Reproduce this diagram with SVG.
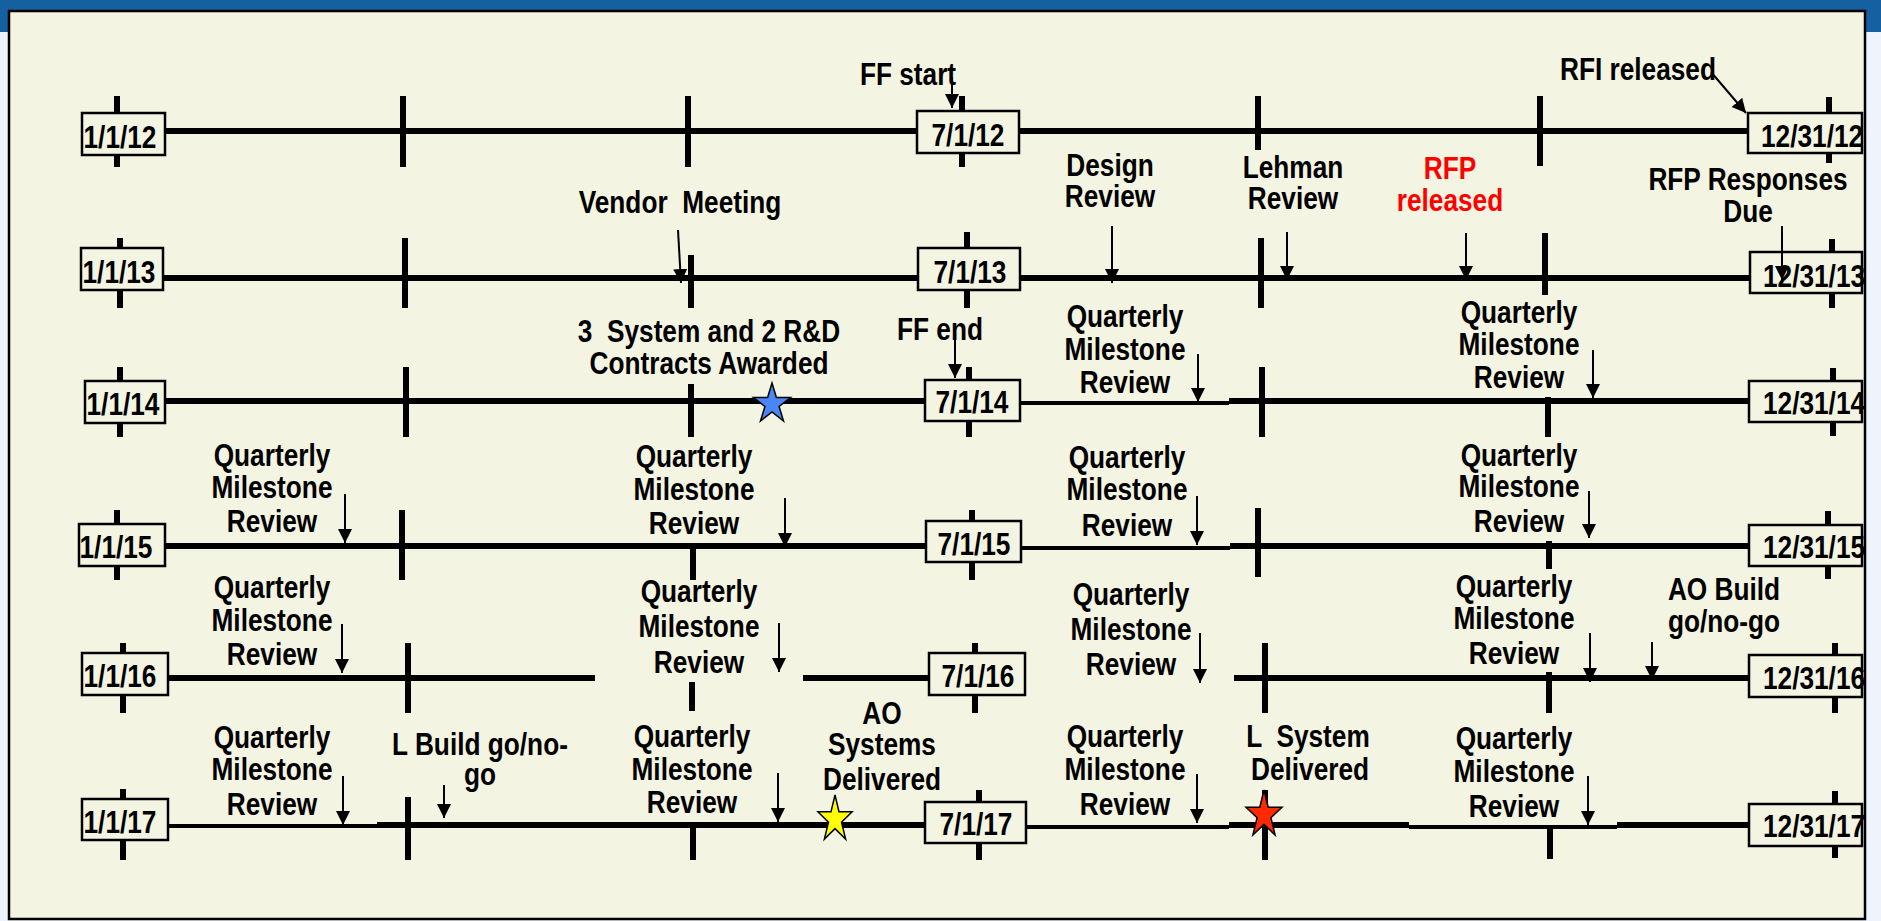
<svg xmlns="http://www.w3.org/2000/svg" width="1881" height="921" viewBox="0 0 1881 921">
<defs>
<style>
text{font-family:"Liberation Sans",Arial,sans-serif;font-weight:bold;font-size:32px;fill:#000;text-anchor:middle}
.e{text-anchor:start}
.red{fill:#FF0000}
.ln{stroke:#000;stroke-width:6;fill:none}
.thin{stroke:#000;stroke-width:4;fill:none}
.tk{stroke:#000;stroke-width:6;fill:none}
.box{fill:#F3F4E2;stroke:#000;stroke-width:2.5}
.ar{stroke:#000;stroke-width:2;fill:none;marker-end:url(#ah)}
.star{stroke:#000;stroke-width:1.5}
</style>
<marker id="ah" markerUnits="userSpaceOnUse" markerWidth="16" markerHeight="16" refX="14" refY="7" orient="auto"><path d="M0,0 L14,7 L0,14 z" fill="#000"/></marker>
</defs>
<rect x="0" y="0" width="1881" height="921" fill="#EFF3FB"/>
<rect x="0" y="0" width="1881" height="32" fill="#1560A0"/>
<rect x="9" y="11" width="1856" height="908" fill="#F3F4E2" stroke="#000" stroke-width="2.5"/>

<g id="row2012">
<path class="ln" d="M165,131 H1748"/>
<path class="tk" d="M117,96 V167 M403,96 V167 M688,96 V167 M962,96 V167 M1258,96 V150 M1540,96 V166 M1829,97 V163"/>
<rect class="box" x="82" y="113" width="83" height="42"/>
<rect class="box" x="917" y="111" width="102" height="42"/>
<rect class="box" x="1748" y="113" width="114" height="40"/>
<g transform="scale(0.82,1)"><text x="146.34" y="148">1/1/12</text><text x="1180.49" y="146">7/1/12</text><text class="e" x="2147.56" y="147">12/31/12</text></g>
</g>
<g id="row2013">
<path class="ln" d="M163,278 H1750"/>
<path class="tk" d="M120,238 V308 M405,238 V308 M691,255 V308 M967,232 V308 M1261,238 V308 M1545,233 V295 M1832,239 V308"/>
<rect class="box" x="81" y="248" width="82" height="42"/>
<rect class="box" x="918" y="248" width="102" height="42"/>
<rect class="box" x="1750" y="252" width="112" height="41"/>
<g transform="scale(0.82,1)"><text x="145.12" y="283">1/1/13</text><text x="1182.93" y="283">7/1/13</text><text class="e" x="2150" y="287">12/31/13</text></g>
</g>
<g id="row2014">
<path class="ln" d="M165,401 H925 M1229,401 H1749"/>
<path class="thin" d="M1020,403 H1229"/>
<path class="tk" d="M120,367 V437 M406,367 V437 M691,384 V437 M969,367 V437 M1262,367 V437 M1548,397 V437 M1833,368 V436"/>
<rect class="box" x="85" y="381" width="80" height="42"/>
<rect class="box" x="925" y="380" width="95" height="41"/>
<rect class="box" x="1749" y="381" width="113" height="41"/>
<g transform="scale(0.82,1)"><text x="150" y="415">1/1/14</text><text x="1185.37" y="413">7/1/14</text><text class="e" x="2150" y="414">12/31/14</text></g>
</g>
<g id="row2015">
<path class="ln" d="M165,546 H926 M1230,546 H1749"/>
<path class="thin" d="M1021,548 H1230"/>
<path class="tk" d="M117,510 V580 M402,510 V580 M693,543 V580 M972,510 V580 M1258,508 V577 M1549,541 V569 M1828,511 V579"/>
<rect class="box" x="79" y="524" width="86" height="42"/>
<rect class="box" x="926" y="521" width="95" height="41"/>
<rect class="box" x="1749" y="525" width="113" height="41"/>
<g transform="scale(0.82,1)"><text x="141.46" y="558">1/1/15</text><text x="1187.8" y="555">7/1/15</text><text class="e" x="2150" y="558">12/31/15</text></g>
</g>
<g id="row2016">
<path class="ln" d="M168,678 H595 M803,678 H929 M1234,678 H1749"/>
<path class="tk" d="M123,643 V713 M408,643 V713 M692,682 V711 M975,643 V713 M1265,643 V713 M1549,672 V713 M1835,643 V713"/>
<rect class="box" x="82" y="653" width="86" height="42"/>
<rect class="box" x="929" y="653" width="96" height="42"/>
<rect class="box" x="1749" y="655" width="113" height="42"/>
<g transform="scale(0.82,1)"><text x="146.34" y="687">1/1/16</text><text x="1192.68" y="687">7/1/16</text><text class="e" x="2150" y="689">12/31/16</text></g>
</g>
<g id="row2017">
<path class="thin" d="M168,826 H377 M1026,827 H1229 M1409,827 H1617"/>
<path class="ln" d="M377,825 H925 M1229,825 H1409 M1617,825 H1749"/>
<path class="tk" d="M123,789 V860 M408,797 V860 M693,827 V860 M979,790 V860 M1265,790 V860 M1550,827 V859 M1835,791 V858"/>
<rect class="box" x="82" y="799" width="86" height="41"/>
<rect class="box" x="925" y="802" width="101" height="41"/>
<rect class="box" x="1749" y="804" width="113" height="42"/>
<g transform="scale(0.82,1)"><text x="146.34" y="833">1/1/17</text><text x="1190.24" y="835">7/1/17</text><text class="e" x="2150" y="837">12/31/17</text></g>
</g>

<g id="ev-ffstart" transform="scale(0.82,1)"><text x="1107.32" y="85">FF start</text></g>
<g id="ev-rfi" transform="scale(0.82,1)"><text x="1997.56" y="80">RFI released</text></g>
<g id="ev-vendor" transform="scale(0.82,1)"><text x="829.27" y="213" xml:space="preserve">Vendor  Meeting</text></g>
<g id="ev-design" transform="scale(0.82,1)"><text x="1353.66" y="176">Design</text><text x="1353.66" y="207">Review</text></g>
<g id="ev-lehman" transform="scale(0.82,1)"><text x="1576.83" y="178">Lehman</text><text x="1576.83" y="209">Review</text></g>
<g id="ev-rfp" transform="scale(0.82,1)"><text class="red" x="1768.29" y="179">RFP</text><text class="red" x="1768.29" y="211">released</text></g>
<g id="ev-rfpdue" transform="scale(0.82,1)"><text x="2131.71" y="190">RFP Responses</text><text x="2131.71" y="222">Due</text></g>
<g id="ev-contracts">
<g transform="scale(0.82,1)"><text x="864.63" y="342" xml:space="preserve">3  System and 2 R&amp;D</text><text x="864.63" y="374">Contracts Awarded</text></g>
<polygon class="star" fill="#4A86F7" points="772,383 776.4,397.5 790.5,397.5 779.1,406.5 783.5,421 772,412 760.5,421 764.9,406.5 753.5,397.5 767.6,397.5"/></g>
<g id="ev-ffend" transform="scale(0.82,1)"><text x="1146.34" y="340">FF end</text></g>
<g id="qmr-14a" transform="scale(0.82,1)"><text x="1371.95" y="327">Quarterly</text><text x="1371.95" y="360">Milestone</text><text x="1371.95" y="393">Review</text></g>
<g id="qmr-14b" transform="scale(0.82,1)"><text x="1852.44" y="323">Quarterly</text><text x="1852.44" y="355">Milestone</text><text x="1852.44" y="388">Review</text></g>
<g id="qmr-15a" transform="scale(0.82,1)"><text x="331.71" y="466">Quarterly</text><text x="331.71" y="498">Milestone</text><text x="331.71" y="532">Review</text></g>
<g id="qmr-15b" transform="scale(0.82,1)"><text x="846.34" y="467">Quarterly</text><text x="846.34" y="500">Milestone</text><text x="846.34" y="534">Review</text></g>
<g id="qmr-15c" transform="scale(0.82,1)"><text x="1374.39" y="468">Quarterly</text><text x="1374.39" y="500">Milestone</text><text x="1374.39" y="536">Review</text></g>
<g id="qmr-15d" transform="scale(0.82,1)"><text x="1852.44" y="466">Quarterly</text><text x="1852.44" y="497">Milestone</text><text x="1852.44" y="532">Review</text></g>
<g id="qmr-16a" transform="scale(0.82,1)"><text x="331.71" y="598">Quarterly</text><text x="331.71" y="631">Milestone</text><text x="331.71" y="665">Review</text></g>
<g id="qmr-16b" transform="scale(0.82,1)"><text x="852.44" y="602">Quarterly</text><text x="852.44" y="637">Milestone</text><text x="852.44" y="673">Review</text></g>
<g id="qmr-16c" transform="scale(0.82,1)"><text x="1379.27" y="605">Quarterly</text><text x="1379.27" y="640">Milestone</text><text x="1379.27" y="675">Review</text></g>
<g id="qmr-16d" transform="scale(0.82,1)"><text x="1846.34" y="597">Quarterly</text><text x="1846.34" y="629">Milestone</text><text x="1846.34" y="664">Review</text></g>
<g id="ev-aobuild" transform="scale(0.82,1)"><text x="2102.44" y="600">AO Build</text><text x="2102.44" y="632">go/no-go</text></g>
<g id="qmr-17a" transform="scale(0.82,1)"><text x="331.71" y="748">Quarterly</text><text x="331.71" y="780">Milestone</text><text x="331.71" y="815">Review</text></g>
<g id="ev-lbuild" transform="scale(0.82,1)"><text x="585.37" y="755">L Build go/no-</text><text x="585.37" y="785">go</text></g>
<g id="qmr-17b" transform="scale(0.82,1)"><text x="843.9" y="747">Quarterly</text><text x="843.9" y="780">Milestone</text><text x="843.9" y="813">Review</text></g>
<g id="ev-aosys">
<g transform="scale(0.82,1)"><text x="1075.61" y="724">AO</text><text x="1075.61" y="755">Systems</text><text x="1075.61" y="790">Delivered</text></g>
<polygon class="star" fill="#FFFF00" points="835,795 839,811.8 852.1,811.8 841.5,822.2 845.6,839 835,828.6 824.4,839 828.5,822.2 817.9,811.8 831,811.8"/></g>
<g id="qmr-17c" transform="scale(0.82,1)"><text x="1371.95" y="747">Quarterly</text><text x="1371.95" y="780">Milestone</text><text x="1371.95" y="815">Review</text></g>
<g id="ev-lsys">
<g transform="scale(0.82,1)"><text x="1595.12" y="747" xml:space="preserve">L  System</text><text x="1597.56" y="780">Delivered</text></g>
<polygon class="star" fill="#FF2A00" points="1264,790 1268.2,807.2 1282,807.2 1270.9,817.8 1275.1,835 1264,824.4 1252.9,835 1257.1,817.8 1246,807.2 1259.8,807.2"/></g>
<g id="qmr-17d" transform="scale(0.82,1)"><text x="1846.34" y="749">Quarterly</text><text x="1846.34" y="782">Milestone</text><text x="1846.34" y="817">Review</text></g>

<g id="connectors">
<path class="ar" d="M952,77 V108"/>
<path class="ar" d="M1711,72 L1746,113"/>
<path class="ar" d="M678,230 L681,283"/>
<path class="ar" d="M1112,226 V283"/>
<path class="ar" d="M1287,232 V280"/>
<path class="ar" d="M1466,233 V280"/>
<path class="ar" d="M1782,226 V280"/>
<path class="ar" d="M955,337 V378"/>
<path class="ar" d="M1198,354 V402"/>
<path class="ar" d="M1593,350 V398"/>
<path class="ar" d="M345,494 V543"/>
<path class="ar" d="M785,498 V547"/>
<path class="ar" d="M1197,496 V545"/>
<path class="ar" d="M1589,491 V538"/>
<path class="ar" d="M342,624 V673"/>
<path class="ar" d="M779,623 V672"/>
<path class="ar" d="M1200,633 V683"/>
<path class="ar" d="M1590,633 V682"/>
<path class="ar" d="M1652,642 V680"/>
<path class="ar" d="M343,776 V825"/>
<path class="ar" d="M444,785 V818"/>
<path class="ar" d="M778,773 V822"/>
<path class="ar" d="M1197,774 V823"/>
<path class="ar" d="M1588,776 V825"/>
</g>
</svg>
